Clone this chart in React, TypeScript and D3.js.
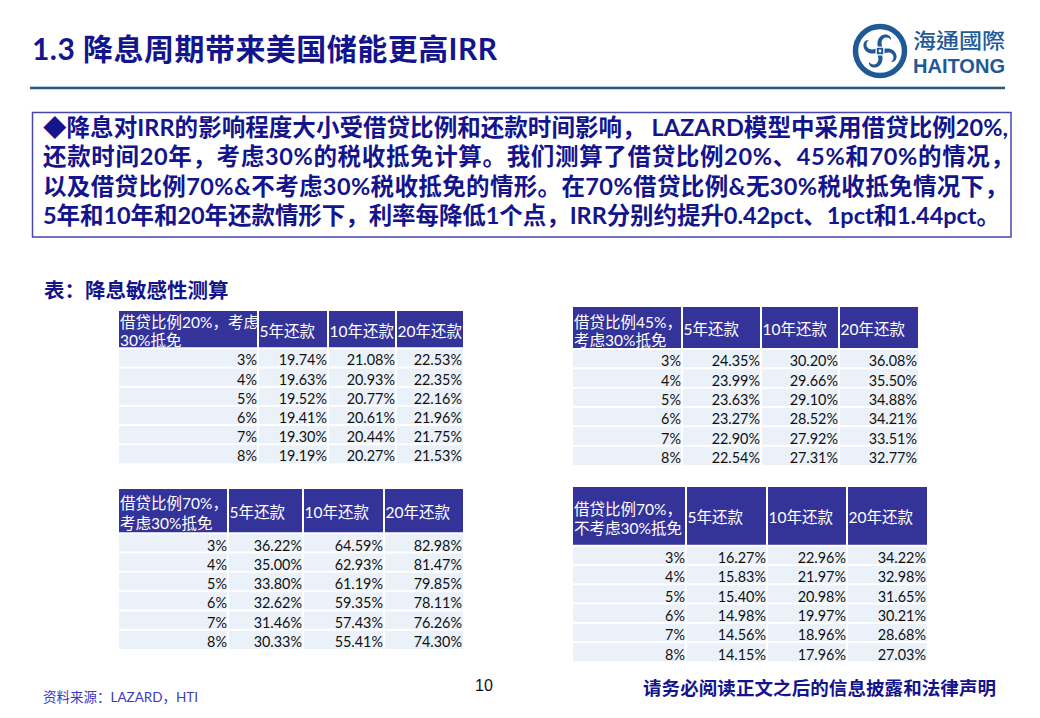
import React from "react";
import * as d3 from "d3";

// ---------- data ----------
const rates = ["3%", "4%", "5%", "6%", "7%", "8%"];
const terms = ["5年还款", "10年还款", "20年还款"];

const irr20_5y = [19.74, 19.63, 19.52, 19.41, 19.3, 19.19];
const irr20_10y = [21.08, 20.93, 20.77, 20.61, 20.44, 20.27];
const irr20_20y = [22.53, 22.35, 22.16, 21.96, 21.75, 21.53];

const irr45_5y = [24.35, 23.99, 23.63, 23.27, 22.9, 22.54];
const irr45_10y = [30.2, 29.66, 29.1, 28.52, 27.92, 27.31];
const irr45_20y = [36.08, 35.5, 34.88, 34.21, 33.51, 32.77];

const irr70_5y = [36.22, 35.0, 33.8, 32.62, 31.46, 30.33];
const irr70_10y = [64.59, 62.93, 61.19, 59.35, 57.43, 55.41];
const irr70_20y = [82.98, 81.47, 79.85, 78.11, 76.26, 74.3];

const irr70n_5y = [16.27, 15.83, 15.4, 14.98, 14.56, 14.15];
const irr70n_10y = [22.96, 21.97, 20.98, 19.97, 18.96, 17.96];
const irr70n_20y = [34.22, 32.98, 31.65, 30.21, 28.68, 27.03];

const cornerLabels = [
  ["借贷比例20%，考虑", "30%抵免"],
  ["借贷比例45%，", "考虑30%抵免"],
  ["借贷比例70%，", "考虑30%抵免"],
  ["借贷比例70%，", "不考虑30%抵免"],
];

const title = "1.3 降息周期带来美国储能更高IRR";
const paragraph = [
  "◆降息对IRR的影响程度大小受借贷比例和还款时间影响， LAZARD模型中采用借贷比例20%,",
  "还款时间20年，考虑30%的税收抵免计算。我们测算了借贷比例20%、45%和70%的情况，",
  "以及借贷比例70%&不考虑30%税收抵免的情形。在70%借贷比例&无30%税收抵免情况下，",
  "5年和10年和20年还款情形下，利率每降低1个点，IRR分别约提升0.42pct、1pct和1.44pct。",
];
const tableTitle = "表：降息敏感性测算";
const sourceNote = "资料来源：LAZARD，HTI";
const pageNo = "10";
const disclaimer = "请务必阅读正文之后的信息披露和法律声明";

// ---------- layout ----------
const tableSeries = [
  [irr20_5y, irr20_10y, irr20_20y],
  [irr45_5y, irr45_10y, irr45_20y],
  [irr70_5y, irr70_10y, irr70_20y],
  [irr70n_5y, irr70n_10y, irr70n_20y],
];
const tableLayout = [
  { x: [119, 258, 328, 396, 463], y0: 311, y1: 348.3, y2: 463.3, cy: [321.7, 340] },
  { x: [573, 682, 761, 839, 918], y0: 307, y1: 349, y2: 465, cy: [321.7, 340] },
  { x: [119, 228, 303, 384, 463], y0: 489, y1: 533.3, y2: 649, cy: [503.3, 522.7] },
  { x: [573, 686, 767, 847, 927], y0: 487, y1: 545.7, y2: 661.5, cy: [509.3, 527.7] },
];
const paraLengths = [965, 971, 965, 957];

const NAVY = "#14148c";
const HEADER = "#333399";
const BODY = "#ebf1f8";
const CJK = "Lato, 'Noto Sans CJK SC', sans-serif";
const NUM = "'Liberation Sans Narrow', Lato, sans-serif";

function Table({ idx }: { idx: number }) {
  const L = tableLayout[idx];
  const series = tableSeries[idx];
  const rowScale = d3.scaleBand<string>().domain(rates).range([L.y1, L.y2]).paddingInner(0);
  const colScale = d3.scaleOrdinal<number, number>().domain([0, 1, 2, 3]).range(L.x.slice(0, 4));
  const colRight = d3.scaleOrdinal<number, number>().domain([0, 1, 2, 3]).range(L.x.slice(1));
  const fmt = (v: number) => d3.format(".2f")(v) + "%";
  const left = L.x[0];
  const right = L.x[4];
  const hc = (L.y0 + L.y1) / 2;
  return (
    <g>
      <rect x={left} y={L.y0} width={right - left} height={L.y1 - L.y0} fill={HEADER} />
      <rect x={left} y={L.y1} width={right - left} height={L.y2 - L.y1} fill={BODY} />
      {rates.map((r) => (
        <line key={"r" + r} x1={left} x2={right} y1={rowScale(r)!} y2={rowScale(r)!} stroke="#fff" strokeWidth={2} />
      ))}
      {[1, 2, 3].map((c) => (
        <line key={"c" + c} x1={colScale(c)} x2={colScale(c)} y1={L.y0} y2={L.y2} stroke="#fff" strokeWidth={2} />
      ))}
      {cornerLabels[idx].map((t, i) => (
        <text key={"k" + i} x={left + 1} y={L.cy[i]} dominantBaseline="central" fill="#fff" fontFamily={CJK} fontSize={15.5}>
          {t}
        </text>
      ))}
      {terms.map((t, i) => (
        <text key={"t" + t} x={colScale(i + 1) + 1.5} y={hc + 1} dominantBaseline="central" fill="#fff" fontFamily={CJK} fontSize={15.5}>
          {t}
        </text>
      ))}
      {rates.map((r, ri) => {
        const yb = rowScale(r)! + rowScale.bandwidth() - 2;
        return (
          <g key={"row" + r}>
            <text x={colRight(0) - 1} y={yb} textAnchor="end" fontFamily={NUM} fontSize={14.4} fill="#111">
              {r}
            </text>
            {series.map((s, ci) => (
              <text key={ci} x={colRight(ci + 1) - 1} y={yb} textAnchor="end" fontFamily={NUM} fontSize={14.4} fill="#111">
                {fmt(s[ri])}
              </text>
            ))}
          </g>
        );
      })}
    </g>
  );
}

function Logo() {
  const cx = 880;
  const cy = 51;
  const blue = "#1f5a97";
  const hook = "M -2.2,-4.5 C -3.5,-10 -1,-15.5 4.5,-16.5 C 8.5,-17 11.5,-14.5 11,-11 C 9,-14 5,-14.2 3,-12 C 1,-10 1.5,-7 2.2,-4.5 Z";
  return (
    <g>
      <circle cx={cx} cy={cy} r={24.5} fill="none" stroke={blue} strokeWidth={5.5} />
      <g transform={`translate(${cx},${cy})`}>
        {[0, 90, 180, 270].map((a) => (
          <g key={a} transform={`rotate(${a})`}>
            <path d={hook} fill={blue} />
          </g>
        ))}
        <rect x={-3.2} y={-3.2} width={6.4} height={6.4} fill={blue} />
        <circle cx={0} cy={0} r={1.4} fill="#fff" />
      </g>
      <text x={913} y={47.5} fill={blue} fontFamily="'Noto Sans CJK TC', 'Noto Sans CJK SC', sans-serif" fontWeight={500} fontSize={21} textLength={92} lengthAdjust="spacingAndGlyphs">
        海通國際
      </text>
      <text x={913} y={72.5} fill={blue} fontFamily="'Liberation Sans', Arial, sans-serif" fontWeight={700} fontSize={20} textLength={92} lengthAdjust="spacingAndGlyphs">
        HAITONG
      </text>
    </g>
  );
}

export default function App() {
  return (
    <svg
      width={1040}
      height={718}
      viewBox="0 0 1040 718"
      style={{ position: "absolute", left: 0, top: 0, background: "#fff" }}
    >
      <rect x={0} y={0} width={1040} height={718} fill="#fff" />
      <text x={32} y={60} fill={NAVY} fontFamily={CJK} fontWeight={700} fontSize={30} textLength={465} lengthAdjust="spacing">
        {title}
      </text>
      <Logo />
      <line x1={30} x2={1005} y1={86.5} y2={86.5} stroke="#b9cad8" strokeWidth={1} />
      <line x1={30} x2={1005} y1={88} y2={88} stroke="#2d5a7b" strokeWidth={2} />
      <line x1={30} x2={1005} y1={89.6} y2={89.6} stroke="#c8d6e1" strokeWidth={1} />

      <rect x={32.5} y={112.5} width={978.5} height={124.5} fill="none" stroke="#4646ad" strokeWidth={1.5} />
      {paragraph.map((line, i) => (
        <text
          key={i}
          x={43}
          y={135.5 + i * 29.5}
          fill={NAVY}
          fontFamily={CJK}
          fontWeight={700}
          fontSize={23.5}
          textLength={paraLengths[i]}
          lengthAdjust="spacing"
        >
          {line}
        </text>
      ))}

      <text x={44} y={298} fill={NAVY} fontFamily={CJK} fontWeight={700} fontSize={20.5}>
        {tableTitle}
      </text>

      {[0, 1, 2, 3].map((i) => (
        <Table key={i} idx={i} />
      ))}

      <text x={43} y={702} fill="#3a3ac4" fontFamily={CJK} fontSize={13.5}>
        {sourceNote}
      </text>
      <text x={484} y={691} textAnchor="middle" fill="#111" fontFamily="'Liberation Sans', Arial, sans-serif" fontSize={16}>
        {pageNo}
      </text>
      <text x={643} y={694.5} fill={NAVY} fontFamily={CJK} fontWeight={700} fontSize={18.5} textLength={353} lengthAdjust="spacing">
        {disclaimer}
      </text>
    </svg>
  );
}
